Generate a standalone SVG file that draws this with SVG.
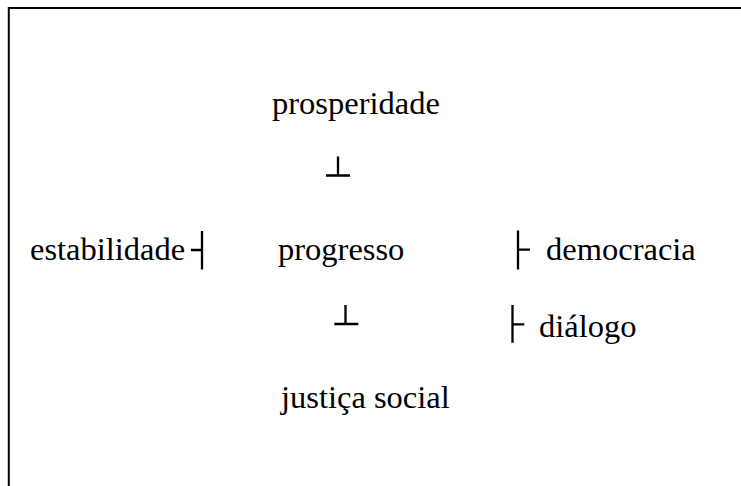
<svg xmlns="http://www.w3.org/2000/svg" width="741" height="486" viewBox="0 0 741 486">
<style>
text{font-family:"Liberation Serif","Times New Roman",serif;font-size:32.5px;fill:#000}
.c{stroke:#000;stroke-width:2.3;fill:none}
</style>
<rect width="741" height="486" fill="#fff"/>
<path d="M8.8,486 V8 H741" fill="none" stroke="#000" stroke-width="2"/>
<g id="prosperidade"><text x="272" y="114">prosperidade</text></g>
<g id="estabilidade"><text x="30" y="260">estabilidade</text></g>
<g id="progresso"><text x="278" y="260">progresso</text></g>
<g id="democracia"><text x="546" y="260">democracia</text></g>
<g id="dialogo"><text x="539" y="337">diálogo</text></g>
<g id="justica"><text x="281" y="408">justiça social</text></g>
<g id="connectors">
<path class="c" d="M338,156.5 V175.5 M326,175.5 H350"/>
<path class="c" d="M345.5,305 V324 M334.3,324 H358.3"/>
<path class="c" d="M202,231 V269.5 M191,250 H202"/>
<path class="c" d="M518,230.5 V269.5 M518,249.7 H530"/>
<path class="c" d="M512.5,305 V342.7 M512.5,324.3 H524.3"/>
</g>
</svg>
